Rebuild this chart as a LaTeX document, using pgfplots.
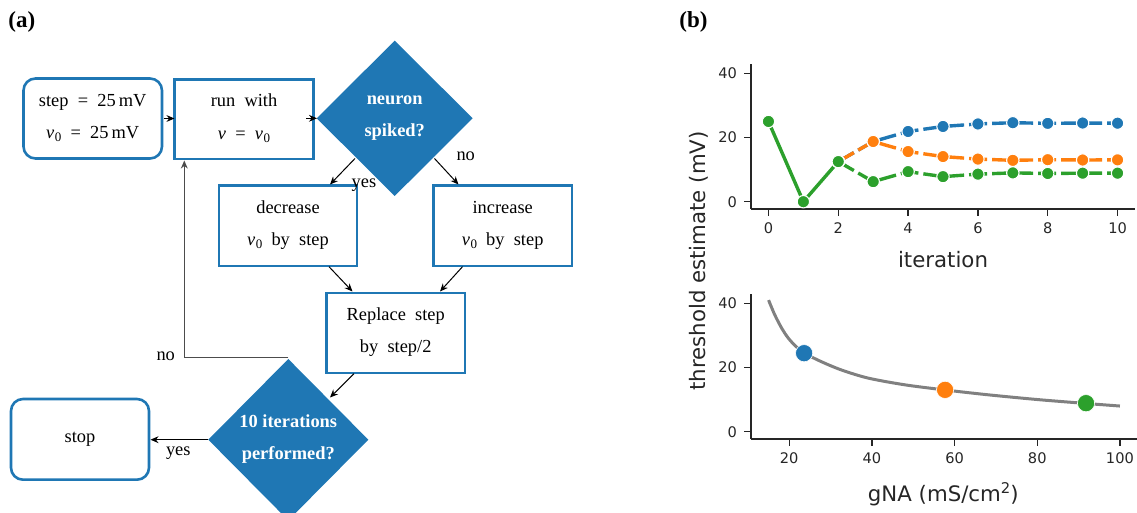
\documentclass[border=0pt]{standalone}
\usepackage{pgfplots}
\pgfplotsset{compat=1.18}
\usepackage{fontspec}
\setmainfont{Liberation Serif}
\newfontfamily\dejavu{DejaVu Sans}
\usetikzlibrary{arrows.meta}
\definecolor{mblue}{HTML}{1F77B4}
\definecolor{morange}{HTML}{FF7F0E}
\definecolor{mgreen}{HTML}{2CA02C}
\definecolor{ink}{HTML}{262626}
\definecolor{curve}{HTML}{808080}
\newcommand{\vz}{\textit{v}\kern0.2pt\raisebox{-0.35ex}{\fontsize{6.5}{7}\selectfont 0}}
\newcommand{\vv}{\textit{v}}

\pgfplotsset{
  mystyle/.style={
    scale only axis,
    axis x line*=bottom, axis y line*=left,
    axis line style={ink, line width=0.85pt, -},
    tick align=outside, major tick length=3.5pt,
    tick style={ink, line width=0.65pt},
    ticklabel style={font=\dejavu\fontsize{7.3}{8}\selectfont, text=ink},
    /pgf/number format/assume math mode=true,
    clip=false,
    ymin=-2.27, ymax=42.9, ytick={0,20,40},
  }
}

\begin{document}
\begin{tikzpicture}
\useasboundingbox (0,0) rectangle (568.5pt,-256.5pt);

% ---------------- flowchart (pixel coordinates) ----------------
\begin{scope}[x=0.5pt,y=-0.5pt, font=\fontsize{9.2}{11}\selectfont,
  bx/.style={draw=mblue,line width=1.3pt},
  arr/.style={-{Stealth[length=4pt,width=3.4pt]},line width=0.5pt,black},
  lb/.style={anchor=base,inner sep=0pt},
  wb/.style={anchor=base,inner sep=0pt,text=white,font=\bfseries\fontsize{9.2}{11}\selectfont}]
% boxes
\draw[bx,rounded corners=6pt] (23.5,78.5) rectangle (162,158.5);
\draw[bx] (174.7,79.3) rectangle (313.3,159);
\draw[bx] (219,185.7) rectangle (357,266);
\draw[bx] (433.5,185.7) rectangle (572,266);
\draw[bx] (326.5,293) rectangle (465,373);
\draw[bx,rounded corners=6pt] (11,399) rectangle (149,479.7);
% diamonds
\fill[mblue] (394.7,40.7) -- (472.7,118.3) -- (394.7,196) -- (316.7,118.3) -- cycle;
\fill[mblue] (288.3,359) -- (368.3,439.7) -- (288.3,520.4) -- (208.3,439.7) -- cycle;
% arrows
\draw[arr] (163.5,118.5) -- (174.5,118.5);
\draw[arr] (306,118.3) -- (317,118.3);
\draw[arr] (355,158.5) -- (330,184.5);
\draw[arr] (434.5,158.5) -- (458.5,184.5);
\draw[arr] (329,266.7) -- (352.5,291.5);
\draw[arr] (462.5,266.7) -- (440,291.5);
\draw[arr] (354,373.7) -- (330,397.5);
\draw[arr] (208.3,439.7) -- (150.5,439.7);
\draw[-{Stealth[length=4pt,width=3.4pt]},line width=0.65pt,black!70] (288.3,357.7) -- (184.3,357.7) -- (184.3,160.5);
% texts
\node[lb] at (92.7,107) {step\ \ =\ \ 25\,mV};
\node[lb] at (92.7,139) {\vz\ \ =\ \ 25\,mV};
\node[lb] at (244,107) {run\ \ with};
\node[lb] at (244,139.5) {\vv\ \ =\ \ \vz};
\node[wb] at (394.7,104.5) {neuron};
\node[wb] at (394.7,136.5) {spiked?};
\node[lb] at (288,213.5) {decrease};
\node[lb] at (288,245.5) {\vz\ \ by\ \ step};
\node[lb] at (502.7,213.5) {increase};
\node[lb] at (502.7,245.5) {\vz\ \ by\ \ step};
\node[lb] at (395.7,321) {Replace\ \ step};
\node[lb] at (395.7,353) {by\ \ step/2};
\node[wb] at (288.3,427.5) {10 iterations};
\node[wb] at (288.3,459.5) {performed?};
\node[lb] at (80,443) {stop};
\node[lb] at (465.7,161) {no};
\node[lb] at (364,188) {yes};
\node[lb] at (165.7,361) {no};
\node[lb] at (178.3,455.5) {yes};
% panel letters
\node[anchor=base west,inner sep=0pt,font=\bfseries\fontsize{11.5}{12}\selectfont] at (8,27.5) {(a)};
\node[anchor=base west,inner sep=0pt,font=\bfseries\fontsize{11.5}{12}\selectfont] at (679,27.5) {(b)};
% axis labels of (b)
\node[anchor=base,inner sep=0pt,rotate=90,font=\dejavu\fontsize{10.65}{12}\selectfont,text=ink] at (705,261) {threshold estimate (mV)};
\node[anchor=base,inner sep=0pt,font=\dejavu\fontsize{10.65}{12}\selectfont,text=ink] at (943,268) {iteration};
\node[anchor=base,inner sep=0pt,font=\dejavu\fontsize{10.65}{12}\selectfont,text=ink] at (943.3,502) {gNA (mS/cm\raisebox{0.75ex}{\fontsize{7.4}{8}\selectfont 2})};
\end{scope}

% ---------------- top axis ----------------
\begin{axis}[mystyle,
  at={(375.5pt,-104.5pt)}, anchor=south west,
  width=192pt, height=72.5pt,
  xmin=-0.5, xmax=10.5, xtick={0,2,4,6,8,10}]
\addplot[mblue, line width=1.7pt, dash pattern=on 9pt off 2.5pt, mark=*, mark size=3.1pt,
  mark options={solid, fill=mblue, draw=white, line width=0.55pt}]
  coordinates {(2,12.5) (3,18.75) (4,21.875) (5,23.4375) (6,24.22) (7,24.61) (8,24.41) (9,24.51) (10,24.46)};
\addplot[morange, line width=1.7pt, dash pattern=on 9pt off 2.5pt, mark=*, mark size=3.1pt,
  mark options={solid, fill=morange, draw=white, line width=0.55pt}]
  coordinates {(2,12.5) (3,18.75) (4,15.625) (5,14.06) (6,13.28) (7,12.89) (8,13.09) (9,12.99) (10,13.04)};
\addplot[mgreen, line width=1.7pt, dash pattern=on 9pt off 2.5pt, mark=*, mark size=3.1pt,
  mark options={solid, fill=mgreen, draw=white, line width=0.55pt}]
  coordinates {(2,12.5) (3,6.25) (4,9.375) (5,7.81) (6,8.59) (7,8.98) (8,8.79) (9,8.89) (10,8.89)};
\addplot[mgreen, line width=1.7pt, mark=*, mark size=3.1pt,
  mark options={solid, fill=mgreen, draw=white, line width=0.55pt}]
  coordinates {(0,25) (1,0) (2,12.5)};
\end{axis}

% ---------------- bottom axis ----------------
\begin{axis}[mystyle,
  at={(375.5pt,-219.5pt)}, anchor=south west,
  width=193.25pt, height=72.5pt,
  xmin=10.75, xmax=104.25, xtick={20,40,60,80,100}]
\addplot[curve, line width=1.5pt, smooth] coordinates {
  (15,41.0) (16.5,36.4) (18.2,32.2) (19.8,29.1) (21.6,26.6) (23.6,24.5) (27.8,21.8)
  (32.7,19.2) (39.1,16.7) (48,14.6) (57.7,13.0) (68.1,11.5) (80.2,10.0) (91.8,8.8) (100,8.0)};
\addplot[only marks, mark=*, mark size=4.3pt, mblue, mark options={draw=white,line width=0.3pt}]
  coordinates {(23.6,24.46)};
\addplot[only marks, mark=*, mark size=4.3pt, morange, mark options={draw=white,line width=0.3pt}]
  coordinates {(57.7,13.04)};
\addplot[only marks, mark=*, mark size=4.3pt, mgreen, mark options={draw=white,line width=0.3pt}]
  coordinates {(91.8,8.89)};
\end{axis}
\end{tikzpicture}
\end{document}
